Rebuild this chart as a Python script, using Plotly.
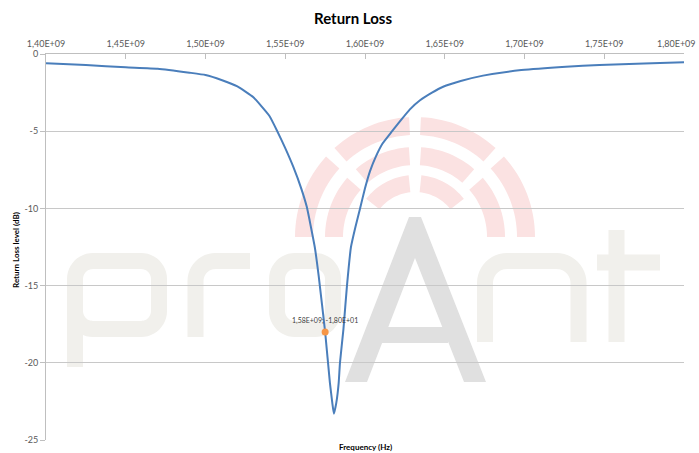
import math
import plotly.graph_objects as go

# ---------------- data ----------------
freq_ghz = [1.400, 1.425, 1.450, 1.470, 1.490, 1.500, 1.510, 1.520, 1.530, 1.540,
            1.545, 1.550, 1.555, 1.560, 1.5635, 1.5685, 1.571, 1.575, 1.578, 1.5795,
            1.5805, 1.582, 1.5835, 1.5843, 1.5865, 1.5887, 1.5912, 1.5940, 1.5969, 1.6000,
            1.6031, 1.6070, 1.6110, 1.6170, 1.6220, 1.6280, 1.6345, 1.6420, 1.649, 1.660,
            1.674, 1.698, 1.726, 1.747, 1.775, 1.800]
return_loss_db = [-0.60, -0.72, -0.86, -0.95, -1.21, -1.36, -1.68, -2.1, -2.8, -4.0,
                  -5.0, -6.1, -7.3, -8.7, -9.9, -12.5, -14.4, -18.0, -21.3, -22.6,
                  -23.3, -22.6, -21.3, -20.0, -17.8, -15.0, -12.5, -11.2, -10.0, -8.7,
                  -7.6, -6.6, -5.8, -5.0, -4.35, -3.6, -3.0, -2.5, -2.12, -1.75,
                  -1.40, -1.04, -0.82, -0.71, -0.62, -0.54]

x_tick_ghz = [1.40, 1.45, 1.50, 1.55, 1.60, 1.65, 1.70, 1.75, 1.80]
x_tick_labels = ["1,40E+09", "1,45E+09", "1,50E+09", "1,55E+09", "1,60E+09",
                 "1,65E+09", "1,70E+09", "1,75E+09", "1,80E+09"]
y_tick_vals = [0, -5, -10, -15, -20, -25]
y_tick_labels = ["0", "-5", "-10", "-15", "-20", "-25"]

marker_freq_ghz = [1.575]
marker_db = [-18.0]
marker_label = "1,58E+09; -1,80E+01"

freq_hz = [round(f * 1e9) for f in freq_ghz]
x_tick_hz = [round(f * 1e9) for f in x_tick_ghz]
marker_freq_hz = [round(f * 1e9) for f in marker_freq_ghz]

W, H = 699, 453
L, R, T, B = 46, 684, 54, 440
X0, X1 = 1400000000, 1800000000
Y0, Y1 = -25.0, 0.0


# ---------------- watermark helpers (pixel -> data) ----------------
def px(xp):
    return X0 + (xp - L) / (R - L) * (X1 - X0)


def py(yp):
    return Y1 - (yp - T) / (B - T) * (Y1 - Y0)


def path_from(points, close=False):
    s = "M " + " L ".join(f"{px(a):.1f},{py(b):.4f}" for a, b in points)
    return s + (" Z" if close else "")


def arc_pts(cx, cy, r, a1, a2, n=12):
    out = []
    for i in range(n + 1):
        a = math.radians(a1 + (a2 - a1) * i / n)
        out.append((cx + r * math.cos(a), cy - r * math.sin(a)))
    return out


def rounded_rect(x0, y0, x1, y1, r):
    pts = []
    pts += arc_pts(x1 - r, y0 + r, r, 90, 0)
    pts += arc_pts(x1 - r, y1 - r, r, 0, -90)
    pts += arc_pts(x0 + r, y1 - r, r, 270, 180)
    pts += arc_pts(x0 + r, y0 + r, r, 180, 90)
    return pts


def band(cx, cy, r1, r2, a1, a2):
    outer = arc_pts(cx, cy, r2, a1, a2, 16)
    inner = arc_pts(cx, cy, r1, a2, a1, 16)
    return outer + inner


shapes = []
letter_col = "#f1f0ec"
lw = 16
# p
shapes.append(dict(type="path", path=path_from(rounded_rect(75, 261, 159, 329, 18), True),
                   line=dict(color=letter_col, width=lw)))
shapes.append(dict(type="path", path=path_from([(75, 290), (75, 367)]),
                   line=dict(color=letter_col, width=lw)))
# r
r_pts = [(195.5, 337)] + arc_pts(215.5, 281, 20, 180, 90) + [(250, 261)]
shapes.append(dict(type="path", path=path_from(r_pts), line=dict(color=letter_col, width=lw)))
# o
shapes.append(dict(type="path", path=path_from(rounded_rect(277, 261, 333, 329, 18), True),
                   line=dict(color=letter_col, width=lw)))
# n
n_pts = [(485, 342)] + arc_pts(507, 283, 22, 180, 90) + arc_pts(556.5, 283, 22, 90, 0) + [(578.5, 342)]
shapes.append(dict(type="path", path=path_from(n_pts), line=dict(color=letter_col, width=lw)))
# t
shapes.append(dict(type="path", path=path_from([(616.5, 230), (616.5, 342)]),
                   line=dict(color=letter_col, width=lw)))
shapes.append(dict(type="path", path=path_from([(597, 262.5), (660, 262.5)]),
                   line=dict(color=letter_col, width=lw)))
# arcs
arc_col = "#fbe2e2"
cx, cy = 415, 237
for r1, r2, segs in [(102, 120, [(0, 45), (45, 90), (90, 135), (135, 180)]),
                     (72, 90, [(0, 45), (45, 90), (90, 135), (135, 180)]),
                     (45, 62, [(38, 90), (90, 142)])]:
    g = math.degrees(5.5 / ((r1 + r2) / 2))
    for i, (a1, a2) in enumerate(segs):
        b1 = a1 + (g if a1 not in (0, 38) else 0)
        b2 = a2 - (g if a2 not in (180, 142) else 0)
        shapes.append(dict(type="path", path=path_from(band(cx, cy, r1, r2, b1, b2), True),
                           fillcolor=arc_col, line=dict(width=0)))
# A
a_col = "#e0e0e0"
A_pts = [(345, 382), (409, 217), (421, 217), (486, 382), (464, 382), (415, 258), (367, 382)]
shapes.append(dict(type="path", path=path_from(A_pts, True), fillcolor=a_col, line=dict(width=0)))
shapes.append(dict(type="path", path=path_from([(382, 327), (448, 327), (448, 343), (382, 343)], True),
                   fillcolor=a_col, line=dict(width=0)))
for s in shapes:
    s.update(xref="x", yref="y", layer="below")

# ---------------- figure ----------------
fig = go.Figure()
fig.add_trace(go.Scatter(x=freq_hz, y=return_loss_db, mode="lines",
                         line=dict(color="#4a7ebb", width=2, shape="spline", smoothing=0.4),
                         hoverinfo="skip", showlegend=False))
fig.add_trace(go.Scatter(x=marker_freq_hz, y=marker_db, mode="markers",
                         marker=dict(color="#f79646", size=7), showlegend=False))

font_family = "Lato, 'Liberation Sans', Arial, sans-serif"
# last x tick label is placed as an annotation so that it stays inside the page
shown_tick_text = x_tick_labels[:-1] + [""]
fig.update_layout(
    width=W, height=H,
    margin=dict(l=L, r=W - R, t=T, b=H - B, autoexpand=False),
    paper_bgcolor="white", plot_bgcolor="white",
    font=dict(family=font_family, color="#595959", size=9),
    shapes=shapes,
    annotations=[
        dict(text="<b>Return Loss</b>", xref="paper", yref="paper",
             x=(353 - L) / (R - L), y=1, yshift=36, showarrow=False,
             font=dict(size=15, color="#000000", family=font_family), yanchor="middle"),
        dict(text="<b>Frequency (Hz)</b>", xref="paper", yref="paper",
             x=0.5, y=0, yshift=-7, showarrow=False,
             font=dict(size=8, color="#000000", family=font_family), yanchor="middle"),
        dict(text="<b>Return Loss level (dB)</b>", xref="paper", yref="paper",
             x=0, xshift=-30, y=(B - 250) / (B - T), showarrow=False, textangle=-90,
             font=dict(size=8, color="#000000", family=font_family), xanchor="center"),
        dict(text=marker_label, x=marker_freq_hz[0], y=marker_db[0], xref="x", yref="y",
             yshift=11, showarrow=False, font=dict(size=7, color="#404040", family=font_family)),
        dict(text=x_tick_labels[-1], xref="paper", yref="paper", x=1, xshift=W - R - 1,
             xanchor="right", y=1, yshift=11, yanchor="middle", showarrow=False,
             font=dict(size=9, color="#595959", family=font_family)),
    ],
)
fig.update_xaxes(side="top", range=[X0, X1], tickvals=x_tick_hz, ticktext=shown_tick_text,
                 automargin=False, ticklabeloverflow="allow", ticklabelstandoff=2,
                 showgrid=False, zeroline=False, showline=True, linecolor="#bfbfbf", linewidth=1,
                 ticks="inside", ticklen=5, tickcolor="#bfbfbf", tickfont=dict(size=9, color="#595959"))
fig.update_yaxes(range=[Y0, Y1], tickvals=y_tick_vals, ticktext=y_tick_labels,
                 automargin=False, ticklabeloverflow="allow",
                 showgrid=True, gridcolor="#c8c8c8", gridwidth=1, zeroline=False,
                 showline=True, linecolor="#bfbfbf", linewidth=1,
                 ticks="outside", ticklen=5, tickcolor="#bfbfbf", tickfont=dict(size=9, color="#595959"))

fig.write_html("out.html", config={"displayModeBar": False},
               post_script="document.body.style.margin='0';document.body.style.padding='0';")
